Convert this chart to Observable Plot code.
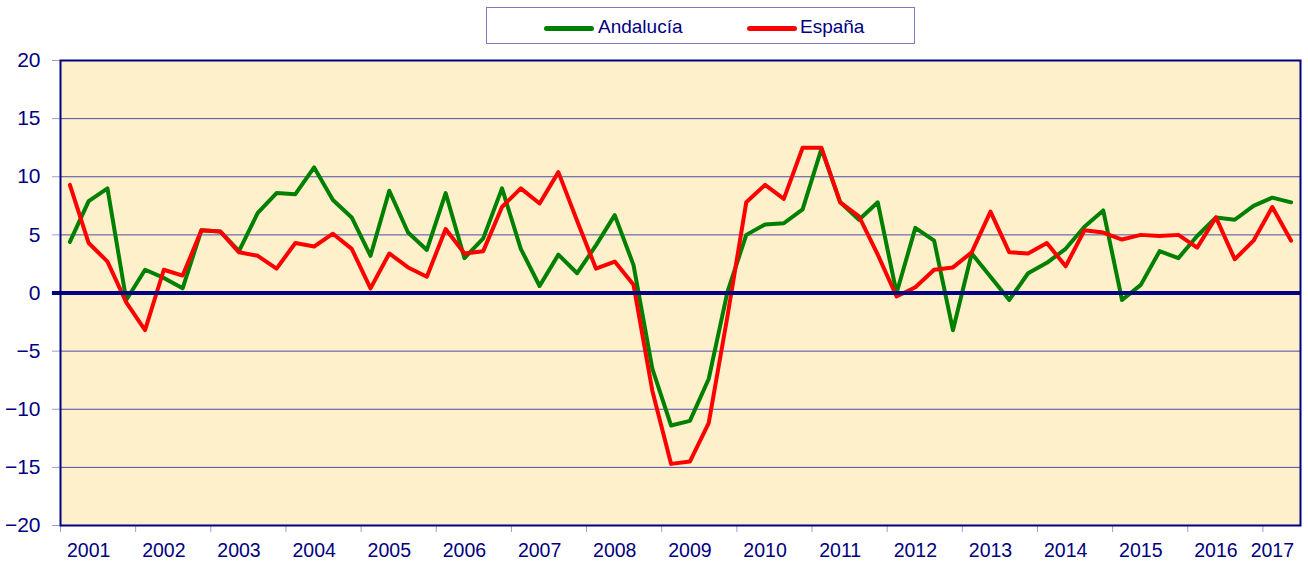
<!DOCTYPE html>
<html>
<head>
<meta charset="utf-8">
<script src="https://cdn.jsdelivr.net/npm/d3@7"></script>
<script src="https://cdn.jsdelivr.net/npm/@observablehq/plot@0.6"></script>
<style>
  html, body { margin: 0; padding: 0; background: white; }
  #wrap { position: relative; width: 1308px; height: 563px; font-family: "Liberation Sans", Arial, sans-serif; }
  #legend { position: absolute; z-index: 2; left: 486px; top: 7px; width: 429px; height: 37px; border: 1px solid #7a7ac4; box-sizing: border-box; background: white; }
  .sw { position: absolute; height: 5px; border-radius: 3px; top: 18px; width: 50px; }
  .lt { position: absolute; top: 8px; font-size: 19px; line-height: 22px; color: #000080; }
  #chart { position: absolute; z-index: 1; left: 0; top: 30px; }
</style>
</head>
<body>
<div id="wrap">
  <div id="legend">
    <div class="sw" style="left:57px;background:#008000"></div>
    <div class="lt" style="left:111px">Andalucía</div>
    <div class="sw" style="left:260px;background:#ff0000"></div>
    <div class="lt" style="left:313px">España</div>
  </div>
  <div id="chart"></div>
</div>
<script>
// Quarterly growth rates, 2001 Q1 – 2017 Q2
const yearLabels = ["2001","2002","2003","2004","2005","2006","2007","2008","2009","2010","2011","2012","2013","2014","2015","2016","2017"];
const labelQuarterIndex = [1,5,9,13,17,21,25,29,33,37,41,45,49,53,57,61,64];
const yearBoundaries = [-0.5,3.5,7.5,11.5,15.5,19.5,23.5,27.5,31.5,35.5,39.5,43.5,47.5,51.5,55.5,59.5,63.5];
const yTicks = [-20,-15,-10,-5,0,5,10,15,20];

const andalucia = [4.4,7.9,9.0,-0.6,2.0,1.3,0.4,5.4,5.3,3.6,6.9,8.6,8.5,10.8,8.0,6.5,3.2,8.8,5.2,3.7,
  8.6,3.0,4.7,9.0,3.8,0.6,3.3,1.7,4.1,6.7,2.4,-6.5,-11.4,-11.0,-7.4,0.1,5.0,5.9,6.0,7.2,
  12.4,7.8,6.3,7.8,0.0,5.6,4.5,-3.2,3.4,1.4,-0.6,1.7,2.6,3.8,5.7,7.1,-0.6,0.7,3.6,3.0,
  4.9,6.5,6.3,7.5,8.2,7.8];
const espana = [9.3,4.3,2.7,-0.8,-3.2,2.0,1.5,5.4,5.3,3.5,3.2,2.1,4.3,4.0,5.1,3.8,0.4,3.4,2.2,1.4,
  5.5,3.4,3.6,7.4,9.0,7.7,10.4,6.2,2.1,2.7,0.7,-8.4,-14.7,-14.5,-11.2,-2.0,7.8,9.3,8.1,12.5,
  12.5,7.8,6.6,3.3,-0.3,0.5,2.0,2.2,3.5,7.0,3.5,3.4,4.3,2.3,5.4,5.2,4.6,5.0,4.9,5.0,
  3.9,6.5,2.9,4.5,7.4,4.5];

const navy = "#000080";
const chart = Plot.plot({
  width: 1308,
  height: 533,
  marginLeft: 60,
  marginRight: 8,
  marginTop: 30,
  marginBottom: 38,
  style: { fontFamily: "'Liberation Sans', Arial, sans-serif", background: "white", color: navy },
  x: { type: "linear", domain: [-0.5, 65.5], axis: null },
  y: { domain: [-20, 20], axis: null },
  marks: [
    Plot.frame({ fill: "#FEF0CB", stroke: null }),
    Plot.ruleY(yTicks.filter(d => d !== 0 && d !== 20 && d !== -20), { stroke: "#4c4ca6", strokeWidth: 1 }),
    Plot.axisY(yTicks, { tickSize: 8, tickPadding: 12, stroke: "#9c9cd0", fill: navy, fontSize: 21 }),
    Plot.axisX(yearBoundaries, { tickSize: 7, tickFormat: () => "", stroke: "#9c9cd0" }),
    Plot.axisX(labelQuarterIndex, { tickSize: 0, tickPadding: 18, fill: navy, fontSize: 19.5,
      tickFormat: d => yearLabels[labelQuarterIndex.indexOf(d)] }),
    Plot.line(andalucia, { x: (d, i) => i, y: d => d, stroke: "#008000", strokeWidth: 4, strokeLinejoin: "round" }),
    Plot.line(espana, { x: (d, i) => i, y: d => d, stroke: "#ff0000", strokeWidth: 4, strokeLinejoin: "round" }),
    Plot.ruleY([0], { x1: -0.93, x2: 65.5, stroke: navy, strokeWidth: 4 }),
    Plot.frame({ stroke: navy, strokeWidth: 2 })
  ]
});
document.getElementById("chart").appendChild(chart);
</script>
</body>
</html>
